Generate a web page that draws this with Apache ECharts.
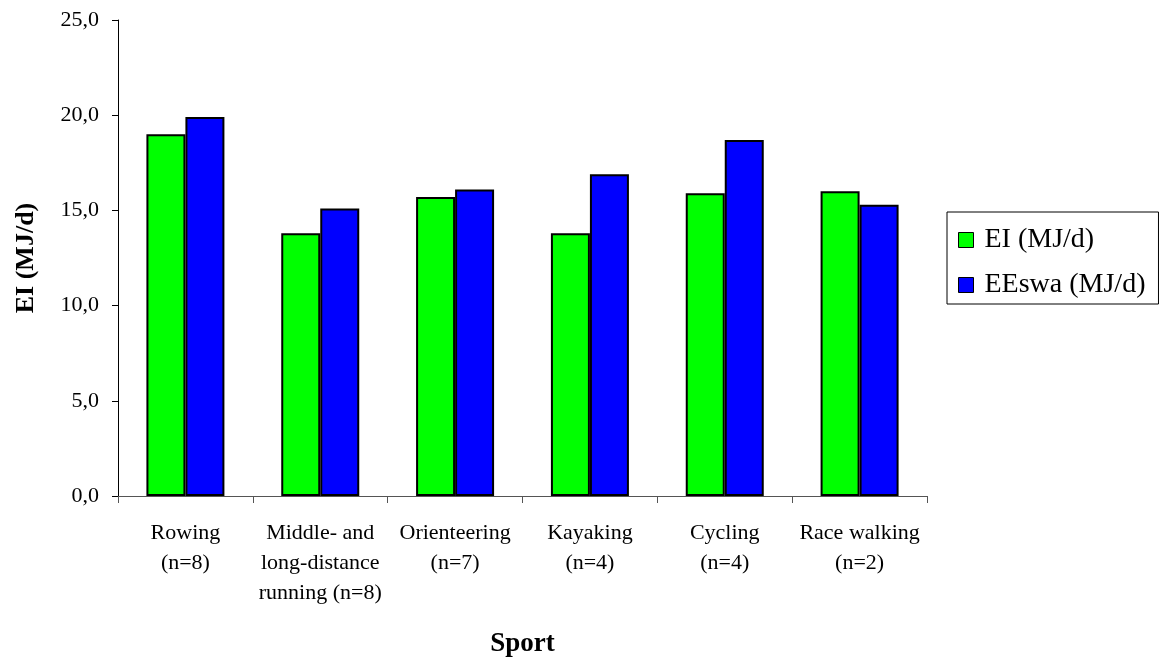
<!DOCTYPE html>
<html>
<head>
<meta charset="utf-8">
<title>Energy intake and expenditure by sport</title>
<script src="https://cdn.jsdelivr.net/npm/echarts@6/dist/echarts.min.js"></script>
<style>
  html, body { margin: 0; padding: 0; background: #fff; }
  #chart { width: 1160px; height: 660px; }
</style>
</head>
<body>
<div id="chart"></div>
<script>
// Sports with group sizes
const categories = [
  'Rowing\n(n=8)',
  'Middle- and\nlong-distance\nrunning (n=8)',
  'Orienteering\n(n=7)',
  'Kayaking\n(n=4)',
  'Cycling\n(n=4)',
  'Race walking\n(n=2)'
];
// Energy intake (MJ/d)
const eiValues = [19.0, 13.8, 15.7, 13.8, 15.9, 16.0];
// Energy expenditure (MJ/d)
const eeswaValues = [19.9, 15.1, 16.1, 16.9, 18.7, 15.3];
const seriesNames = ['EI (MJ/d)', 'EEswa (MJ/d)'];

const serif = '"Liberation Serif", "DejaVu Serif", serif';

const chart = echarts.init(document.getElementById('chart'), null, { renderer: 'canvas' });

const barStyle = (color) => ({
  color: color,
  borderColor: '#000',
  borderWidth: 2
});

chart.setOption({
  animation: false,
  backgroundColor: '#fff',
  grid: {
    left: 118, right: 233, top: 20, bottom: 164,
    containLabel: false,
    outerBoundsMode: 'none'
  },
  legend: {
    orient: 'vertical',
    left: 947,
    top: 212,
    padding: [12, 13, 3, 11],
    itemGap: 13,
    itemWidth: 15,
    itemHeight: 15,
    icon: 'rect',
    borderColor: '#000',
    borderWidth: 1,
    backgroundColor: '#fff',
    itemStyle: { borderColor: '#000', borderWidth: 1 },
    textStyle: {
      fontFamily: serif,
      fontSize: 28,
      color: '#000',
      lineHeight: 32,
      padding: [0, 0, 0, 6]
    },
    data: seriesNames
  },
  xAxis: {
    type: 'category',
    data: categories,
    name: 'Sport',
    nameLocation: 'middle',
    nameGap: 135,
    nameTextStyle: {
      fontFamily: serif,
      fontSize: 27,
      fontWeight: 'bold',
      color: '#000',
      verticalAlign: 'top'
    },
    axisLine: { lineStyle: { color: '#555', width: 1 } },
    axisTick: { show: true, alignWithLabel: false, length: 7, lineStyle: { color: '#555' } },
    axisLabel: {
      fontFamily: serif,
      fontSize: 22,
      color: '#000',
      lineHeight: 30,
      margin: 22,
      interval: 0
    }
  },
  yAxis: {
    type: 'value',
    min: 0,
    max: 25,
    interval: 5,
    name: 'EI (MJ/d)',
    nameLocation: 'middle',
    nameGap: 79,
    nameRotate: 90,
    nameTextStyle: {
      fontFamily: serif,
      fontSize: 26,
      fontWeight: 'bold',
      color: '#000'
    },
    splitLine: { show: false },
    axisLine: { show: true, lineStyle: { color: '#000', width: 1 } },
    axisTick: { show: true, inside: false, length: 6, lineStyle: { color: '#000' } },
    axisLabel: {
      fontFamily: serif,
      fontSize: 22,
      color: '#000',
      margin: 19,
      formatter: (v) => v.toFixed(1).replace('.', ',')
    }
  },
  series: [
    {
      name: seriesNames[0],
      type: 'bar',
      data: eiValues,
      barWidth: 39,
      barGap: '0%',
      itemStyle: barStyle('#00ff00')
    },
    {
      name: seriesNames[1],
      type: 'bar',
      data: eeswaValues,
      barWidth: 39,
      barGap: '0%',
      itemStyle: barStyle('#0000ff')
    }
  ]
});
</script>
</body>
</html>
